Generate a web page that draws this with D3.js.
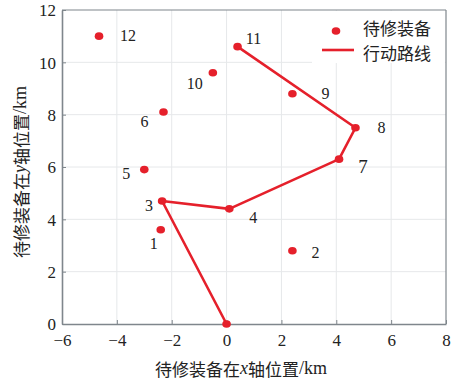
<!DOCTYPE html>
<html>
<head>
<meta charset="utf-8">
<script src="https://cdn.jsdelivr.net/npm/d3@7"></script>
<style>
  html, body { margin: 0; padding: 0; background: #fff; }
  svg { display: block; }
</style>
</head>
<body>
<svg id="chart" width="460" height="383"></svg>
<script>
// Equipment positions (km), index = equipment number (0 = depot)
const pointIds = [0, 1, 2, 3, 4, 5, 6, 7, 8, 9, 10, 11, 12];
const xPos = [0, -2.4, 2.4, -2.35, 0.1, -3.0, -2.3, 4.1, 4.7, 2.4, -0.5, 0.4, -4.65];
const yPos = [0, 3.6, 2.8, 4.7, 4.4, 5.9, 8.1, 6.3, 7.5, 8.8, 9.6, 10.6, 11.0];
// Repair route through the points, in visiting order
const route = [0, 3, 4, 7, 8, 11];
// Label offsets (px) for the point numbers
const labelDx = [0, -7, 23, -13, 24, -18, -19, 24, 26, 33, -18, 16, 29];
const labelDy = [0, 14, 2, 4, 9, 4, 9, 7, 0, 0, 11, -8, -1];
const xTicks = [-6, -4, -2, 0, 2, 4, 6, 8];
const yTicks = [0, 2, 4, 6, 8, 10, 12];
const legendLabels = ["待修装备", "行动路线"];

const red = "#e5202b";
const axisColor = "#7f868c";
const serif = "'Liberation Serif', 'DejaVu Serif', serif";
const cjk = "'Noto Sans CJK SC', sans-serif";

const svg = d3.select("#chart");
const plotL = 62, plotR = 446, plotT = 10, plotB = 324;

const x = d3.scaleLinear().domain([-6, 8]).range([plotL, plotR]);
const y = d3.scaleLinear().domain([0, 12]).range([plotB, plotT]);

// grid
const grid = svg.append("g").attr("stroke", "#e6e8ea").attr("stroke-width", 1);
grid.selectAll("line.vx").data(xTicks.slice(1, -1)).join("line")
  .attr("x1", d => x(d)).attr("x2", d => x(d)).attr("y1", plotT).attr("y2", plotB);
grid.selectAll("line.hy").data(yTicks.slice(1, -1)).join("line")
  .attr("y1", d => y(d)).attr("y2", d => y(d)).attr("x1", plotL).attr("x2", plotR);

// legend backdrop
svg.append("rect").attr("x", 312).attr("y", plotT + 1).attr("width", plotR - 313).attr("height", 52)
  .attr("fill", "#fff");

// axes
const xAxis = d3.axisBottom(x).tickValues(xTicks).tickSizeInner(-4).tickSizeOuter(0)
  .tickFormat(d => d < 0 ? "\u2212" + Math.abs(d) : d);
const yAxis = d3.axisLeft(y).tickValues(yTicks).tickSizeInner(-4).tickSizeOuter(0);

const gx = svg.append("g").attr("transform", `translate(0,${plotB})`).call(xAxis);
const gy = svg.append("g").attr("transform", `translate(${plotL},0)`).call(yAxis);
[gx, gy].forEach(g => {
  g.select(".domain").attr("stroke", axisColor).attr("stroke-width", 1.6);
  g.selectAll(".tick line").attr("stroke", axisColor).attr("stroke-width", 1);
  g.selectAll(".tick text").attr("font-family", serif).attr("font-size", 17).attr("fill", "#222");
});
gx.selectAll(".tick text").attr("dy", "1.05em").attr("y", 4);
gy.selectAll(".tick text").attr("x", -6).attr("dy", "0.35em");

// top and right frame
svg.append("line").attr("x1", plotL).attr("x2", plotR).attr("y1", plotT).attr("y2", plotT)
  .attr("stroke", axisColor).attr("stroke-width", 1.2);
svg.append("line").attr("x1", plotR).attr("x2", plotR).attr("y1", plotT).attr("y2", plotB)
  .attr("stroke", axisColor).attr("stroke-width", 1.2);

// route line
const line = d3.line().x(i => x(xPos[i])).y(i => y(yPos[i]));
svg.append("path").datum(route).attr("d", line)
  .attr("fill", "none").attr("stroke", red).attr("stroke-width", 2.6)
  .attr("stroke-linejoin", "round");

// points
svg.append("g").selectAll("ellipse").data(pointIds).join("ellipse")
  .attr("cx", i => x(xPos[i])).attr("cy", i => y(yPos[i]))
  .attr("rx", 4.3).attr("ry", 3.8).attr("fill", red);

// point numbers
svg.append("g").selectAll("text").data(pointIds.filter(i => i > 0)).join("text")
  .attr("x", i => x(xPos[i]) + labelDx[i]).attr("y", i => y(yPos[i]) + labelDy[i])
  .attr("text-anchor", "middle").attr("dominant-baseline", "central")
  .attr("font-family", serif).attr("font-size", i => i === 7 ? 19 : 16).attr("fill", "#222")
  .text(i => i);

// legend
svg.append("ellipse").attr("cx", 336).attr("cy", 31).attr("rx", 4.3).attr("ry", 3.8).attr("fill", red);
svg.append("line").attr("x1", 322).attr("x2", 354).attr("y1", 50).attr("y2", 50)
  .attr("stroke", red).attr("stroke-width", 2.6);
svg.selectAll("text.leg").data(legendLabels).join("text").attr("class", "leg")
  .attr("x", 363).attr("y", (d, i) => 27.5 + i * 24.5)
  .attr("dominant-baseline", "central")
  .attr("font-family", cjk).attr("font-size", 17).attr("fill", "#222")
  .text(d => d);

// axis titles
const xt = svg.append("text").attr("x", 241).attr("y", 368)
  .attr("text-anchor", "middle").attr("dominant-baseline", "central")
  .attr("font-family", cjk).attr("font-size", 17).attr("fill", "#222");
xt.append("tspan").text("待修装备在");
xt.append("tspan").attr("font-family", serif).attr("font-style", "italic").attr("font-size", 18).text("x");
xt.append("tspan").text("轴位置");
xt.append("tspan").attr("font-family", serif).attr("font-size", 18).text("/km");

const yt = svg.append("text").attr("transform", "translate(20,172) rotate(-90)")
  .attr("text-anchor", "middle").attr("dominant-baseline", "central")
  .attr("font-family", cjk).attr("font-size", 17).attr("fill", "#222");
yt.append("tspan").text("待修装备在");
yt.append("tspan").attr("font-family", serif).attr("font-style", "italic").attr("font-size", 18).text("y");
yt.append("tspan").text("轴位置");
yt.append("tspan").attr("font-family", serif).attr("font-size", 18).text("/km");
</script>
</body>
</html>
